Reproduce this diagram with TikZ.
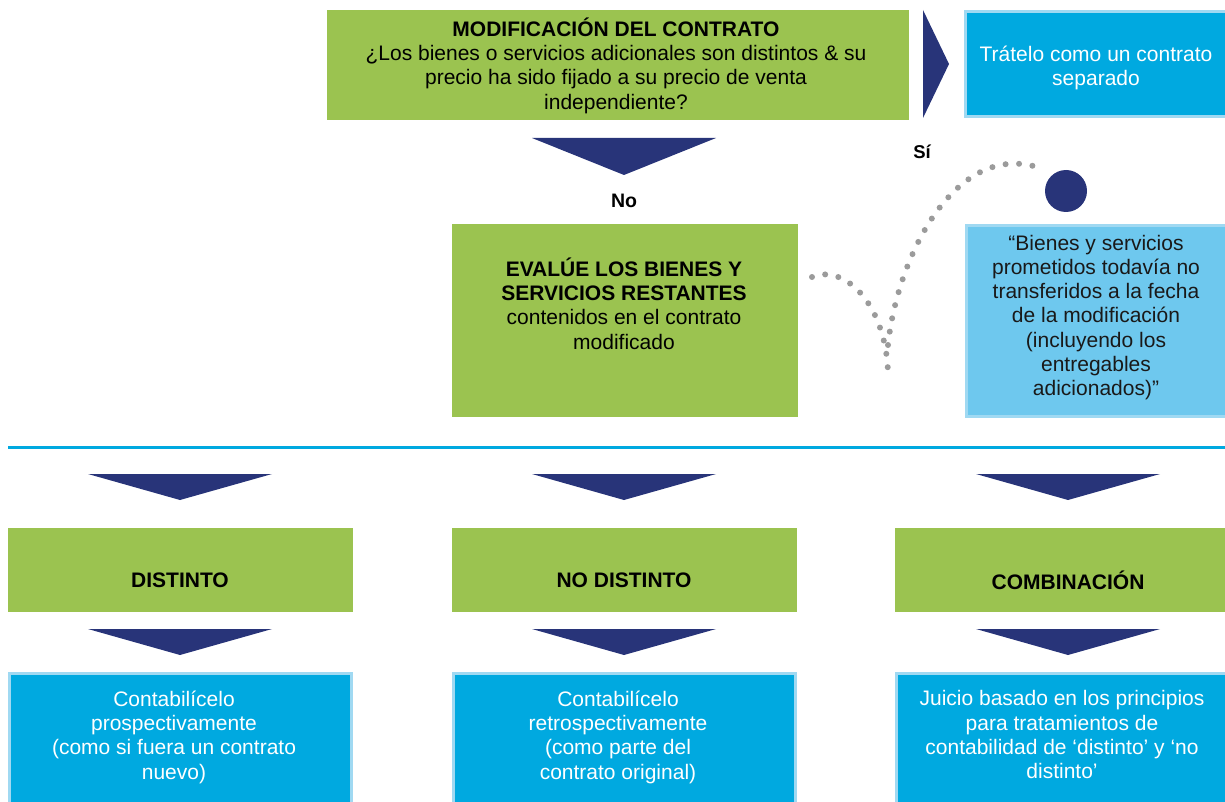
\documentclass[tikz,border=0pt]{standalone}
\usepackage{fontspec}
\setmainfont{Liberation Sans}
\definecolor{kgreen}{HTML}{9BC350}
\definecolor{knavy}{HTML}{283479}
\definecolor{kblue}{HTML}{00A9E0}
\definecolor{klight}{HTML}{6EC8EE}
\definecolor{kborder}{HTML}{A0D9F2}
\definecolor{kgray}{HTML}{9B9B9B}
\tikzset{
  base/.style={inner sep=0pt, outer sep=0pt, anchor=north west},
  greenbox/.style={base, fill=kgreen},
  bluebox/.style={base, fill=kblue, draw=kborder, line width=3pt},
  lightbox/.style={base, fill=klight, draw=kborder, line width=3pt},
  txt/.style={inner sep=0pt, align=center, font=\fontsize{21}{24.3}\selectfont},
  wtxt/.style={txt, text=white},
  chev/.style={fill=knavy},
  dotline/.style={draw=kgray, line width=6pt, line cap=round, dash pattern=on 0pt off 13.5pt},
}
\begin{document}
\begin{tikzpicture}[x=1pt,y=-1pt]
\useasboundingbox (0,0) rectangle (1225,802);
% top row
\node[greenbox, minimum width=582pt, minimum height=110pt] (mod) at (327,10) {};
\node[txt] (modt) at (616,65.5) {\textbf{MODIFICACIÓN DEL CONTRATO}\\¿Los bienes o servicios adicionales son distintos \& su\\precio ha sido fijado a su precio de venta\\independiente?};
\fill[chev] (923,10) -- (949,64) -- (923,118) -- cycle;
\node[bluebox, minimum width=263pt, minimum height=105pt] (sep) at (965.5,11.5) {};
\node[wtxt] (sept) at (1096,68) {Trátelo como un contrato\\separado};
% No branch
\fill[chev] (532,138) -- (716,138) -- (624,175) -- cycle;
\node[txt, font=\fontsize{19.5}{22}\selectfont\bfseries] (no) at (624,201) {No};
\node[greenbox, minimum width=346pt, minimum height=193pt] (eval) at (451.5,224) {};
\node[txt] (evalt) at (624,303.5) {\textbf{EVALÚE LOS BIENES Y}\\\textbf{SERVICIOS RESTANTES}\\contenidos en el contrato\\modificado};
% Si branch
\node[txt, font=\fontsize{18.5}{22}\selectfont\bfseries] (si) at (922,152) {Sí};
\node[circle, fill=knavy, minimum size=42pt, inner sep=0pt] (dot) at (1066,191) {};
\node[lightbox, minimum width=263pt, minimum height=191pt] (rest) at (966.5,225.5) {};
\node[txt, text=black!90] (restt) at (1096,317.5) {“Bienes y servicios\\prometidos todavía no\\transferidos a la fecha\\de la modificación\\(incluyendo los\\entregables\\adicionados)”};
\coordinate (c0) at (812,277);
\coordinate (c1) at (888,372);
\coordinate (c2) at (888,345);
\coordinate (c3) at (1040,168);
\draw[dotline] (c0) .. controls (842,264) and (885,300) .. (c1);
\draw[dotline] (c2) .. controls (898,252) and (958,140) .. (c3);
% separator
\draw[kblue, line width=3pt] (8,447) -- (1225,447);
% bottom row
\foreach \n/\x/\xl/\w/\lab/\body in {
  a/180/8/345/DISTINTO/{Contabilícelo\\prospectivamente\\(como si fuera un contrato\\nuevo)},
  b/624/452/345/NO DISTINTO/{Contabilícelo\\retrospectivamente\\(como parte del\\contrato original)},
  c/1068/895/340/COMBINACIÓN/{Juicio basado en los principios\\para tratamientos de\\contabilidad de ‘distinto’ y ‘no\\distinto’}}{
  \fill[chev] (\x-92,474) -- (\x+92,474) -- (\x,500) -- cycle;
  \node[greenbox, minimum width=\w pt, minimum height=84pt] (g\n) at (\xl,528) {};
  \node[txt, font=\fontsize{21}{24.3}\selectfont\bfseries] (gt\n) at (\x,580) {\lab};
  \fill[chev] (\x-92,629) -- (\x+92,629) -- (\x,655) -- cycle;
  \node[bluebox, minimum width=\w pt - 3pt, minimum height=140pt] (r\n) at (\xl+1.5,673.5) {};
  \node[wtxt, anchor=north] (rt\n) at (\x-6,690.5) {\body};
}
\end{tikzpicture}
\end{document}
